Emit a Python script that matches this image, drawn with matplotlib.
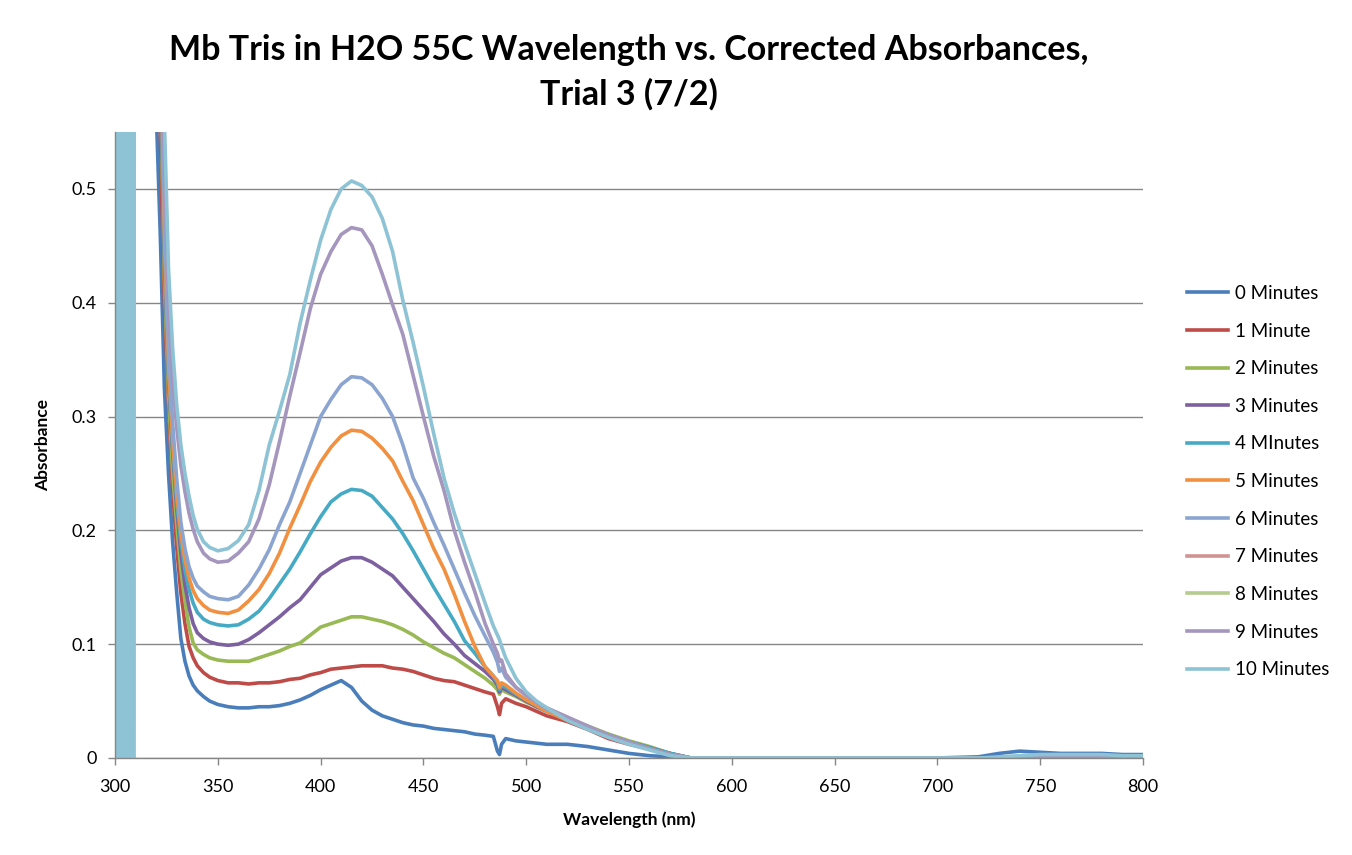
import matplotlib
matplotlib.use("Agg")
import matplotlib.pyplot as plt

plt.rcParams['font.family'] = ['Lato', 'DejaVu Sans']

# shared wavelength grid (nm)
wavelength = [316, 320, 322, 324, 326, 328, 330, 332, 334, 336,
              338, 340, 343, 346, 350, 355, 360, 365, 370, 375,
              380, 385, 390, 395, 400, 405, 410, 415, 420, 425,
              430, 435, 440, 445, 450, 455, 460, 465, 470, 475,
              480, 484, 486, 487, 488, 490, 495, 500, 505, 510,
              520, 530, 540, 550, 560, 570, 580, 600, 650, 700,
              720, 730, 740, 750, 760, 770, 780, 790, 800]

abs_0 = [1.0, 0.57, 0.46, 0.325, 0.25, 0.19, 0.145, 0.105, 0.085, 0.072,
         0.064, 0.059, 0.054, 0.050, 0.047, 0.045, 0.044, 0.044, 0.045, 0.045,
         0.046, 0.048, 0.051, 0.055, 0.060, 0.064, 0.068, 0.062, 0.050, 0.042,
         0.037, 0.034, 0.031, 0.029, 0.028, 0.026, 0.025, 0.024, 0.023, 0.021,
         0.020, 0.019, 0.006, 0.003, 0.012, 0.017, 0.015, 0.014, 0.013, 0.012,
         0.012, 0.010, 0.007, 0.004, 0.002, 0.001, 0.0, 0.0, 0.0, 0.0,
         0.001, 0.004, 0.006, 0.005, 0.004, 0.004, 0.004, 0.003, 0.003]

abs_1 = [1.2, 0.75, 0.55, 0.40, 0.31, 0.235, 0.185, 0.145, 0.118, 0.098,
         0.088, 0.081, 0.075, 0.071, 0.068, 0.066, 0.066, 0.065, 0.066, 0.066,
         0.067, 0.069, 0.070, 0.073, 0.075, 0.078, 0.079, 0.080, 0.081, 0.081,
         0.081, 0.079, 0.078, 0.076, 0.073, 0.070, 0.068, 0.067, 0.064, 0.061,
         0.058, 0.056, 0.045, 0.038, 0.048, 0.052, 0.048, 0.045, 0.041, 0.037,
         0.032, 0.025, 0.017, 0.012, 0.008, 0.003, 0.0, 0.0, 0.0, 0.0,
         0.0, 0.001, 0.001, 0.001, 0.001, 0.001, 0.001, 0.001, 0.001]

abs_2 = [1.2, 0.8, 0.6, 0.42, 0.32, 0.25, 0.205, 0.165, 0.138, 0.115,
         0.101, 0.095, 0.091, 0.088, 0.086, 0.085, 0.085, 0.085, 0.088, 0.091,
         0.094, 0.098, 0.101, 0.108, 0.115, 0.118, 0.121, 0.124, 0.124, 0.122,
         0.120, 0.117, 0.113, 0.108, 0.102, 0.097, 0.092, 0.088, 0.082, 0.076,
         0.070, 0.064, 0.060, 0.056, 0.060, 0.058, 0.054, 0.049, 0.045, 0.041,
         0.035, 0.028, 0.021, 0.015, 0.010, 0.004, 0.0, 0.0, 0.0, 0.0,
         0.0, 0.0, 0.001, 0.001, 0.001, 0.001, 0.001, 0.001, 0.001]

abs_3 = [1.3, 0.85, 0.62, 0.44, 0.335, 0.27, 0.22, 0.18, 0.152, 0.132,
         0.118, 0.110, 0.105, 0.102, 0.100, 0.099, 0.100, 0.104, 0.110, 0.117,
         0.124, 0.132, 0.139, 0.150, 0.161, 0.167, 0.173, 0.176, 0.176, 0.172,
         0.166, 0.160, 0.150, 0.140, 0.130, 0.120, 0.109, 0.100, 0.090, 0.083,
         0.076, 0.069, 0.064, 0.058, 0.062, 0.060, 0.055, 0.050, 0.045, 0.041,
         0.034, 0.027, 0.020, 0.014, 0.009, 0.004, 0.0, 0.0, 0.0, 0.0,
         0.0, 0.0, 0.001, 0.001, 0.001, 0.001, 0.001, 0.001, 0.001]

abs_4 = [1.3, 0.85, 0.63, 0.45, 0.34, 0.275, 0.225, 0.19, 0.165, 0.148,
         0.136, 0.128, 0.122, 0.119, 0.117, 0.116, 0.117, 0.122, 0.129, 0.140,
         0.153, 0.166, 0.181, 0.197, 0.212, 0.225, 0.232, 0.236, 0.235, 0.230,
         0.220, 0.210, 0.197, 0.182, 0.166, 0.150, 0.135, 0.120, 0.103, 0.092,
         0.080, 0.072, 0.066, 0.060, 0.064, 0.062, 0.056, 0.051, 0.046, 0.041,
         0.034, 0.027, 0.020, 0.014, 0.009, 0.004, 0.0, 0.0, 0.0, 0.0,
         0.0, 0.0, 0.001, 0.001, 0.001, 0.001, 0.001, 0.001, 0.001]

abs_5 = [1.3, 0.86, 0.64, 0.46, 0.345, 0.28, 0.232, 0.197, 0.174, 0.158,
         0.147, 0.140, 0.134, 0.130, 0.128, 0.127, 0.130, 0.138, 0.148, 0.162,
         0.180, 0.202, 0.222, 0.243, 0.260, 0.273, 0.283, 0.288, 0.287, 0.281,
         0.272, 0.261, 0.243, 0.226, 0.205, 0.184, 0.166, 0.144, 0.120, 0.098,
         0.080, 0.072, 0.068, 0.062, 0.066, 0.064, 0.057, 0.051, 0.046, 0.041,
         0.033, 0.026, 0.019, 0.013, 0.008, 0.003, 0.0, 0.0, 0.0, 0.0,
         0.0, 0.0, 0.001, 0.001, 0.001, 0.001, 0.001, 0.001, 0.001]

abs_6 = [1.4, 0.9, 0.67, 0.48, 0.36, 0.295, 0.245, 0.207, 0.184, 0.168,
         0.158, 0.151, 0.146, 0.142, 0.140, 0.139, 0.142, 0.152, 0.166, 0.183,
         0.205, 0.225, 0.250, 0.275, 0.300, 0.315, 0.328, 0.335, 0.334, 0.328,
         0.316, 0.300, 0.275, 0.246, 0.228, 0.207, 0.187, 0.166, 0.145, 0.125,
         0.107, 0.093, 0.084, 0.076, 0.079, 0.071, 0.062, 0.055, 0.049, 0.043,
         0.035, 0.027, 0.020, 0.014, 0.008, 0.003, 0.0, 0.0, 0.0, 0.0,
         0.0, 0.0, 0.001, 0.001, 0.001, 0.001, 0.001, 0.001, 0.001]

# 7 and 8 minute traces are not visible in the chart, legend only
abs_7 = []
abs_8 = []

abs_9 = [1.5, 0.95, 0.72, 0.52, 0.40, 0.335, 0.29, 0.257, 0.234, 0.215,
         0.201, 0.190, 0.180, 0.175, 0.172, 0.173, 0.180, 0.190, 0.210, 0.240,
         0.278, 0.318, 0.356, 0.395, 0.425, 0.445, 0.460, 0.466, 0.464, 0.450,
         0.425, 0.398, 0.372, 0.336, 0.300, 0.265, 0.235, 0.200, 0.172, 0.146,
         0.118, 0.100, 0.092, 0.085, 0.086, 0.074, 0.062, 0.055, 0.049, 0.044,
         0.036, 0.028, 0.020, 0.014, 0.008, 0.003, 0.0, 0.0, 0.0, 0.0,
         0.0, 0.0, 0.001, 0.001, 0.001, 0.001, 0.001, 0.001, 0.001]

abs_10 = [1.6, 1.0, 0.76, 0.56, 0.43, 0.36, 0.31, 0.275, 0.250, 0.230,
          0.213, 0.201, 0.190, 0.185, 0.182, 0.184, 0.191, 0.205, 0.235, 0.275,
          0.305, 0.337, 0.382, 0.420, 0.455, 0.482, 0.500, 0.507, 0.503, 0.493,
          0.474, 0.445, 0.402, 0.365, 0.326, 0.285, 0.246, 0.215, 0.188, 0.162,
          0.136, 0.116, 0.108, 0.104, 0.098, 0.088, 0.070, 0.058, 0.050, 0.044,
          0.033, 0.025, 0.018, 0.012, 0.007, 0.002, 0.0, 0.0, 0.0, 0.0,
          0.0, 0.001, 0.002, 0.003, 0.003, 0.003, 0.003, 0.002, 0.002]

# 10 minute trace swings off scale between 300 and 310 nm
spike_wl = [300.0, 300.5, 301.0, 301.5, 302.0, 302.5, 303.0, 303.5, 304.0, 304.5,
            305.0, 305.5, 306.0, 306.5, 307.0, 307.5, 308.0, 308.5, 309.0, 309.5]
spike_abs = [-2, 2, -2, 2, -2, 2, -2, 2, -2, 2,
             -2, 2, -2, 2, -2, 2, -2, 2, -2, 2]

labels = ["0 Minutes", "1 Minute", "2 Minutes", "3 Minutes", "4 MInutes", "5 Minutes",
          "6 Minutes", "7 Minutes", "8 Minutes", "9 Minutes", "10 Minutes"]
colors = ["#4A7EBB", "#BE4B48", "#98B954", "#7D60A0", "#46AAC5", "#F09040",
          "#8CA5D0", "#D09392", "#B6CC8E", "#A596BE", "#8DC3D4"]

series = [abs_0, abs_1, abs_2, abs_3, abs_4, abs_5, abs_6, abs_7, abs_8, abs_9, abs_10]

fig = plt.figure(figsize=(13.52, 8.55), dpi=100)
ax = fig.add_axes([0.0851, 0.1135, 0.7603, 0.7321])

for i in range(len(series)):
    ys = series[i]
    xs = wavelength if len(ys) else []
    if i == 10:
        xs = spike_wl + wavelength
        ys = spike_abs + abs_10
    ax.plot(xs, ys, color=colors[i], lw=2.6, label=labels[i], solid_joinstyle='round')

ax.set_xlim(300, 800)
ax.set_ylim(0, 0.55)
ax.set_xticks(range(300, 801, 50))
ax.set_yticks([0, 0.1, 0.2, 0.3, 0.4, 0.5])
ax.set_yticklabels(["0", "0.1", "0.2", "0.3", "0.4", "0.5"])
ax.grid(axis='y', color='#868686', lw=1)
ax.set_axisbelow(True)
for s in ['top', 'right']:
    ax.spines[s].set_visible(False)
for s in ['left', 'bottom']:
    ax.spines[s].set_color('#868686')
    ax.spines[s].set_linewidth(1)
ax.tick_params(colors='#868686', labelcolor='black', labelsize=13, length=5, width=1)
ax.tick_params(axis='x', pad=10)
ax.tick_params(axis='y', pad=8)

ax.set_xlabel("Wavelength (nm)", fontsize=12.5, fontweight='bold', labelpad=12)
ax.set_ylabel("Absorbance", fontsize=12.5, fontweight='bold', labelpad=15)

fig.text(0.4652, 1 - 72 / 855, "Mb Tris in H2O 55C Wavelength vs. Corrected Absorbances,\nTrial 3 (7/2)",
         ha='center', va='center', fontsize=24.5, fontweight='bold', linespacing=1.45)

ax.legend(loc='center left', bbox_to_anchor=(0.878, 0.4368), bbox_transform=fig.transFigure,
          frameon=False, fontsize=13.5, handlelength=2.2, handletextpad=0.35,
          labelspacing=1.1, borderpad=0, borderaxespad=0)

fig.savefig("out.png", dpi=100)
